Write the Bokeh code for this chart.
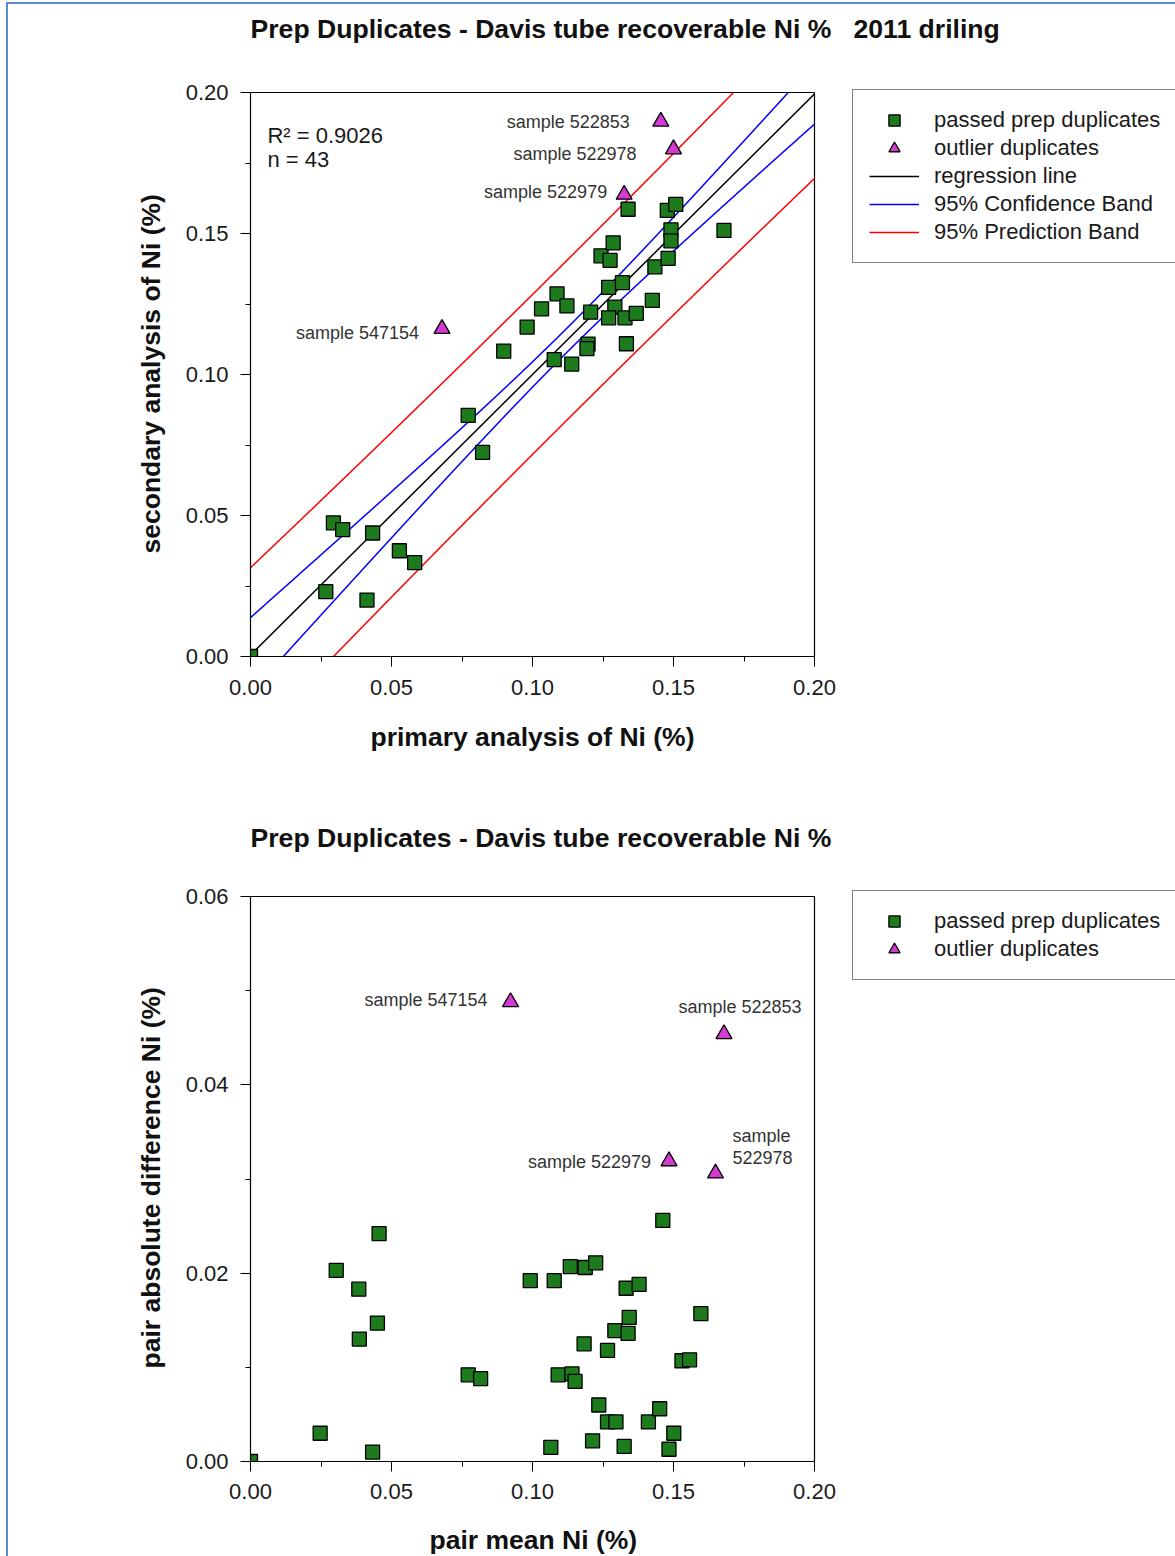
import numpy as np
from bokeh.plotting import figure
from bokeh.models import (Range1d, FixedTicker, NumeralTickFormatter, Legend, LegendItem,
                          Label, Title, ColumnDataSource)
from bokeh.core.properties import value
from bokeh.layouts import column
from bokeh.embed import file_html
from bokeh.resources import INLINE

# ---------------- data: top chart (primary vs secondary Ni %) ----------------
passed_primary = [0.0000, 0.0267, 0.0294, 0.0327, 0.0433, 0.0413, 0.0528, 0.0582, 0.0772, 0.0823,
                  0.0898, 0.0981, 0.1032, 0.1087, 0.1122, 0.1077, 0.1139, 0.1206, 0.1197, 0.1193,
                  0.1243, 0.1275, 0.1286, 0.1270, 0.1319, 0.1292, 0.1270, 0.1328, 0.1368, 0.1333,
                  0.1339, 0.1425, 0.1434, 0.1481, 0.1491, 0.1491, 0.1478, 0.1508, 0.1679]
passed_secondary = [0.0000, 0.0230, 0.0474, 0.0450, 0.0438, 0.0200, 0.0375, 0.0333, 0.0855, 0.0724,
                    0.1083, 0.1168, 0.1233, 0.1286, 0.1243, 0.1053, 0.1037, 0.1221, 0.1108, 0.1092,
                    0.1421, 0.1405, 0.1467, 0.1309, 0.1326, 0.1239, 0.1201, 0.1201, 0.1217, 0.1109,
                    0.1586, 0.1263, 0.1382, 0.1412, 0.1513, 0.1474, 0.1582, 0.1603, 0.1511]
outlier_ids = ["sample 522853", "sample 522978", "sample 522979", "sample 547154"]
outlier_primary = [0.1455, 0.1500, 0.1325, 0.0679]
outlier_secondary = [0.1897, 0.1799, 0.1638, 0.1162]
title_top = "Prep Duplicates - Davis tube recoverable Ni %\u00a0\u00a0 2011 driling"
xlabel_top = "primary analysis of Ni (%)"
ylabel_top = "secondary analysis of Ni (%)"
r2_text = "R² = 0.9026"
n_text = "n = 43"

# regression line and 95% band parameters
reg_n = 43
reg_intercept = 0.0005
reg_slope = 0.995
band_t_s = 0.028      # t(0.975, n-2) * residual std. error
band_xbar = 0.1124    # mean of primary values
band_sxx = 0.0625     # sum of squared deviations of primary values

# ---------------- data: bottom chart (pair mean vs abs difference) ----------------
passed_mean = [0.0000, 0.0247, 0.0304, 0.0384, 0.0386, 0.0450, 0.0456, 0.0433, 0.0772, 0.0816,
               0.0992, 0.1077, 0.1065, 0.1091, 0.1134, 0.1140, 0.1151, 0.1183, 0.1187, 0.1224,
               0.1213, 0.1235, 0.1266, 0.1266, 0.1296, 0.1292, 0.1325, 0.1332, 0.1339, 0.1343,
               0.1378, 0.1411, 0.1451, 0.1462, 0.1484, 0.1501, 0.1530, 0.1557, 0.1597]
passed_absdiff = [0.0000, 0.0030, 0.0203, 0.0183, 0.0130, 0.0147, 0.0242, 0.0010, 0.0092, 0.0088,
                  0.0192, 0.0192, 0.0015, 0.0092, 0.0207, 0.0093, 0.0085, 0.0125, 0.0206, 0.0211,
                  0.0022, 0.0060, 0.0118, 0.0042, 0.0042, 0.0139, 0.0016, 0.0184, 0.0136, 0.0153,
                  0.0188, 0.0042, 0.0056, 0.0256, 0.0013, 0.0030, 0.0107, 0.0108, 0.0157]
outlier_labels_bottom = ["sample 522853", "sample\n522978", "sample 522979", "sample 547154"]
outlier_mean = [0.1679, 0.1649, 0.1484, 0.0922]
outlier_absdiff = [0.0454, 0.0306, 0.0319, 0.0488]
title_bottom = "Prep Duplicates - Davis tube recoverable Ni %"
xlabel_bottom = "pair mean Ni (%)"
ylabel_bottom = "pair absolute difference Ni (%)"

x_ticks = [0.0, 0.05, 0.10, 0.15, 0.20]
x_minor = [0.025, 0.075, 0.125, 0.175]
y1_ticks = [0.0, 0.05, 0.10, 0.15, 0.20]
y1_minor = [0.025, 0.075, 0.125, 0.175]
y2_ticks = [0.0, 0.02, 0.04, 0.06]
y2_minor = [0.01, 0.03, 0.05]

FONT = "Liberation Sans"
GREEN = "#1d7a1d"
MAGENTA = "#d23ad2"

# ---- geometry (pixels) ----
W = 1167
LEFT = 242
PLOT_W = 564               # pixel width of the 0..0.20 box
FRAME_W = W - LEFT          # frame runs to the right edge (room for the legend)
H1, B1, BOX1_TOP = 785, 133, 88     # top figure: height, bottom border, headroom above box
H2, B2, BOX2_TOP = 767, 95, 107
BOX1_H = H1 - B1 - BOX1_TOP          # 564
BOX2_H = H2 - B2 - BOX2_TOP          # 565


def style(p, xt, xm, yt, ym):
    p.xgrid.visible = False
    p.ygrid.visible = False
    p.outline_line_color = None
    p.background_fill_color = "white"
    p.border_fill_color = "white"
    p.xaxis.ticker = FixedTicker(ticks=xt, minor_ticks=xm)
    p.yaxis.ticker = FixedTicker(ticks=yt, minor_ticks=ym)
    p.xaxis.bounds = (xt[0], xt[-1])
    p.yaxis.bounds = (yt[0], yt[-1])
    for ax in (p.xaxis[0], p.yaxis[0]):
        ax.axis_line_color = "black"
        ax.axis_line_width = 1.2
        ax.major_tick_out = 10
        ax.major_tick_in = 0
        ax.minor_tick_out = 5
        ax.minor_tick_in = 0
        ax.major_tick_line_color = "black"
        ax.minor_tick_line_color = "black"
        ax.major_label_text_font = FONT
        ax.major_label_text_font_size = "22px"
        ax.major_label_text_color = "#1a1a1a"
        ax.formatter = NumeralTickFormatter(format="0.00")
    p.xaxis.major_label_standoff = 13
    p.yaxis.major_label_standoff = 12
    # top and right edges of the box
    p.segment(x0=[xt[0], xt[-1]], y0=[yt[-1], yt[0]], x1=[xt[-1], xt[-1]], y1=[yt[-1], yt[-1]],
              line_color="black", line_width=1.2)


def axis_title(text, offset, standoff):
    # axis title placed along the 0..0.20 box rather than the whole frame
    return Title(text=text, align="left", offset=offset, standoff=standoff, vertical_align="top",
                 text_font=FONT, text_font_size="26.5px", text_font_style="bold",
                 text_color="#111111")


def make_legend(items, loc):
    lg = Legend(items=items, location=loc, margin=0)
    lg.border_line_color = "black"
    lg.border_line_width = 1.5
    lg.background_fill_color = "white"
    lg.background_fill_alpha = 1.0
    lg.label_text_font = FONT
    lg.label_text_font_size = "22px"
    lg.label_text_color = "#1a1a1a"
    lg.glyph_width = 50
    lg.glyph_height = 28
    lg.spacing = 0
    lg.padding = 16
    lg.label_standoff = 15
    return lg


# ================= top chart =================
x1_end = x_ticks[-1] * FRAME_W / PLOT_W
y1_end = y1_ticks[-1] * (BOX1_H + BOX1_TOP) / BOX1_H
p1 = figure(width=W, height=H1, x_range=Range1d(0, x1_end), y_range=Range1d(0, y1_end),
            output_backend="svg", toolbar_location=None,
            min_border_left=LEFT, min_border_right=0, min_border_top=0, min_border_bottom=B1)
style(p1, x_ticks, x_minor, y1_ticks, y1_minor)
p1.add_layout(axis_title(xlabel_top, 120, 49), "below")
p1.add_layout(axis_title(ylabel_top, 103, 29), "left")

ymax1 = y1_ticks[-1]
xs = np.linspace(x_ticks[0], x_ticks[-1], 4001)
fit = reg_intercept + reg_slope * xs
ci = band_t_s * np.sqrt(1 / reg_n + (xs - band_xbar) ** 2 / band_sxx)
pi = band_t_s * np.sqrt(1 + 1 / reg_n + (xs - band_xbar) ** 2 / band_sxx)


def clip(v):
    v = v.copy()
    v[v > ymax1] = np.nan
    return v


r_pu = p1.line(xs, clip(fit + pi), line_color="#ff0000", line_width=1.5)
p1.line(xs, clip(fit - pi), line_color="#ff0000", line_width=1.5)
r_cu = p1.line(xs, clip(fit + ci), line_color="#0000ff", line_width=1.5)
p1.line(xs, clip(fit - ci), line_color="#0000ff", line_width=1.5)
r_reg = p1.line(xs, clip(fit), line_color="black", line_width=1.5)

r_sq = p1.scatter(passed_primary, passed_secondary, marker="square", size=14,
                  fill_color=GREEN, line_color="black", line_width=1.3)
r_tri = p1.scatter(outlier_primary, outlier_secondary, marker="triangle", size=16,
                   fill_color=MAGENTA, line_color="black", line_width=1.3)

src1 = ColumnDataSource(dict(x=outlier_primary, y=outlier_secondary, text=outlier_ids,
                             dx=[-31, -37, -17, -23], dy=[0, 5, -3, 4]))
p1.text(x="x", y="y", text="text", x_offset="dx", y_offset="dy", source=src1,
        text_align="right", text_baseline="middle", text_font=value(FONT),
        text_font_size="18px", text_color="#333333")

p1.add_layout(Label(x=0.006, y=0.1848, text=r2_text, text_baseline="middle", text_font=FONT,
                    text_font_size="22px", text_color="#1a1a1a"))
p1.add_layout(Label(x=0.006, y=0.1762, text=n_text, text_baseline="middle", text_font=FONT,
                    text_font_size="22px", text_color="#1a1a1a"))
p1.add_layout(Label(x=0.0, y=ymax1 * (BOX1_H + 64) / BOX1_H, text=title_top,
                    text_baseline="middle", text_font=FONT, text_font_size="26.6px",
                    text_font_style="bold", text_color="#111111"))

lg1 = make_legend([
    LegendItem(label="passed prep duplicates", renderers=[r_sq]),
    LegendItem(label="outlier duplicates", renderers=[r_tri]),
    LegendItem(label="regression line", renderers=[r_reg]),
    LegendItem(label="95% Confidence Band", renderers=[r_cu]),
    LegendItem(label="95% Prediction Band", renderers=[r_pu]),
], (602, 393))
p1.add_layout(lg1)

# ================= bottom chart =================
y2_end = y2_ticks[-1] * (BOX2_H + BOX2_TOP) / BOX2_H
p2 = figure(width=W, height=H2, x_range=Range1d(0, x1_end), y_range=Range1d(0, y2_end),
            output_backend="svg", toolbar_location=None,
            min_border_left=LEFT, min_border_right=0, min_border_top=0, min_border_bottom=B2)
style(p2, x_ticks, x_minor, y2_ticks, y2_minor)
p2.xaxis.major_label_standoff = 12
# small spacer between tick labels and the axis title (keeps the bottom border compact)
p2.xaxis.axis_label = "\u00a0"
p2.xaxis.axis_label_text_font_size = "1px"
p2.xaxis.axis_label_standoff = 19
p2.add_layout(axis_title(xlabel_bottom, 179, 0), "below")
p2.add_layout(axis_title(ylabel_bottom, 93, 29), "left")

r_sq2 = p2.scatter(passed_mean, passed_absdiff, marker="square", size=14,
                   fill_color=GREEN, line_color="black", line_width=1.3)
r_tri2 = p2.scatter(outlier_mean, outlier_absdiff, marker="triangle", size=16,
                    fill_color=MAGENTA, line_color="black", line_width=1.3)

src2 = ColumnDataSource(dict(x=outlier_mean, y=outlier_absdiff, text=outlier_labels_bottom,
                             dx=[16, 17, -18, -23], dy=[-27, -26, 1, -2],
                             align=["center", "left", "right", "right"]))
p2.text(x="x", y="y", text="text", x_offset="dx", y_offset="dy", source=src2,
        text_align="align", text_baseline="middle", text_line_height=1.1,
        text_font=value(FONT), text_font_size="18px", text_color="#333333")

p2.add_layout(Label(x=0.0, y=y2_ticks[-1] * (BOX2_H + 59) / BOX2_H, text=title_bottom,
                    text_baseline="middle", text_font=FONT, text_font_size="26.6px",
                    text_font_style="bold", text_color="#111111"))

lg2 = make_legend([
    LegendItem(label="passed prep duplicates", renderers=[r_sq2]),
    LegendItem(label="outlier duplicates", renderers=[r_tri2]),
], (602, 481))
p2.add_layout(lg2)

layout = column(p1, p2, spacing=0,
                styles={"border-left": "2px solid #5b8bd0", "border-top": "2px solid #5b8bd0",
                        "margin-left": "6px", "margin-top": "2px"})

open("out.html", "w").write(file_html(layout, INLINE))
